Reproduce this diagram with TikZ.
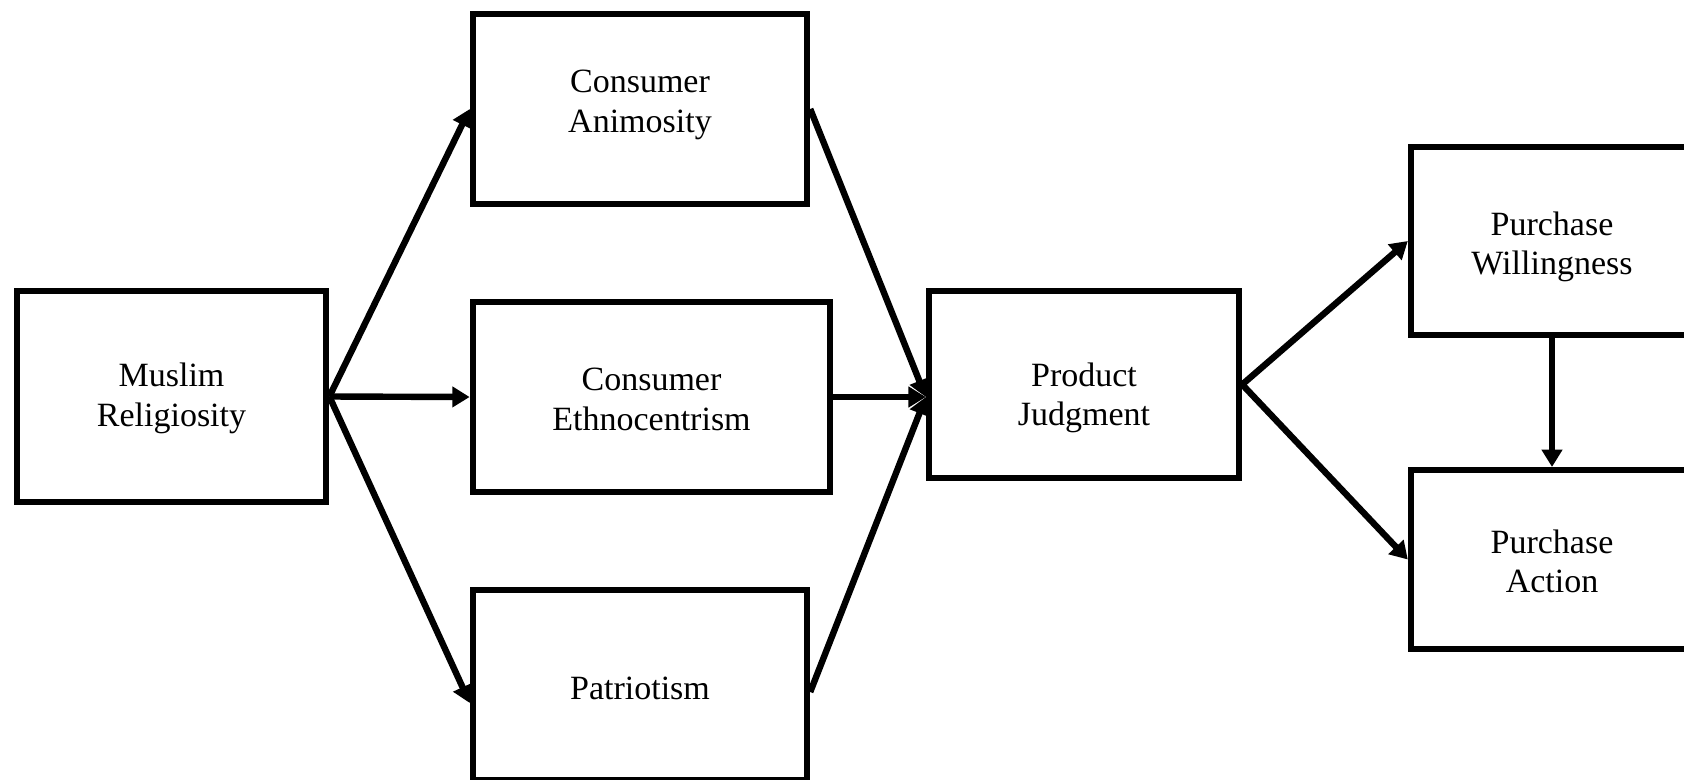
\documentclass[tikz,border=0pt]{standalone}
\usepackage{fontspec}
\setmainfont{Liberation Serif}
\usepackage{tikz}
\usetikzlibrary{arrows.meta}
\usetikzlibrary{calc}

% strut that lowers (positive) or lifts (negative) a box text
\newcommand{\lowerby}[1]{\rule{0pt}{\dimexpr 17.7pt+2\dimexpr #1\relax\relax}}
\newcommand{\liftby}[1]{\rule[-\dimexpr 5.5pt+2\dimexpr #1\relax\relax]{0pt}{0pt}}

\tikzset{
  factor/.style={draw, line width=4.8pt, align=center, inner sep=0pt,
    font=\fontsize{25.5}{29.5}\selectfont},
  link/.style={line width=4.8pt, -{Triangle[length=13pt,width=15pt]}}
}

\begin{document}
\begin{tikzpicture}[x=0.75pt,y=0.75pt,yscale=-1,xscale=1]
\useasboundingbox (0,0) rectangle (1684,779);
\clip (0,0) rectangle (1684,779);

%Shape: Rectangle [id:rel]
\node [factor, minimum width=232pt, minimum height=158pt] (rel) at (171.5,396.5) {\lowerby{1.5pt}Muslim\\Religiosity};
%Shape: Rectangle [id:anim]
\node [factor, minimum width=250.5pt, minimum height=142.5pt] (anim) at (640,109) {Consumer\\Animosity\liftby{3pt}};
%Shape: Rectangle [id:ethno]
\node [factor, minimum width=268pt, minimum height=142.5pt] (ethno) at (651.5,397) {\lowerby{1.5pt}Consumer\\Ethnocentrism};
%Shape: Rectangle [id:patr]
\node [factor, minimum width=250.5pt, minimum height=142.5pt] (patr) at (640,685) {\lowerby{2pt}Patriotism};
%Shape: Rectangle [id:judg]
\node [factor, minimum width=232.5pt, minimum height=140pt] (judg) at (1084,384.5) {\lowerby{10pt}Product\\Judgment};
%Shape: Rectangle [id:will]
\node [factor, minimum width=211.5pt, minimum height=141pt] (will) at (1552,241) {\lowerby{4.5pt}Purchase\\Willingness};
%Shape: Rectangle [id:act]
\node [factor, minimum width=211.5pt, minimum height=134pt] (act) at (1552,559.5) {\lowerby{1.5pt}Purchase\\Action};

\coordinate (judg in) at ($(judg.west)+(0,12.5)$);
\coordinate (patr in) at ($(patr.west)+(0,18)$);
\coordinate (patr out) at ($(patr.east)+(0,7)$);

%Straight Lines
\draw [link] (rel.east) -- (anim.west);
\draw [link] (rel.east) -- (ethno.west);
\draw [link] (rel.east) -- (patr in);
%Straight Lines
\draw [link] (anim.east) -- (judg in);
\draw [link] (ethno.east) -- (judg in);
\draw [link] (patr out) -- (judg in);
%Straight Lines
\draw [link] (judg.east) -- (will.west);
\draw [link] (judg.east) -- (act.west);
\draw [link] (will.south) -- (act.north);

\end{tikzpicture}
\end{document}
